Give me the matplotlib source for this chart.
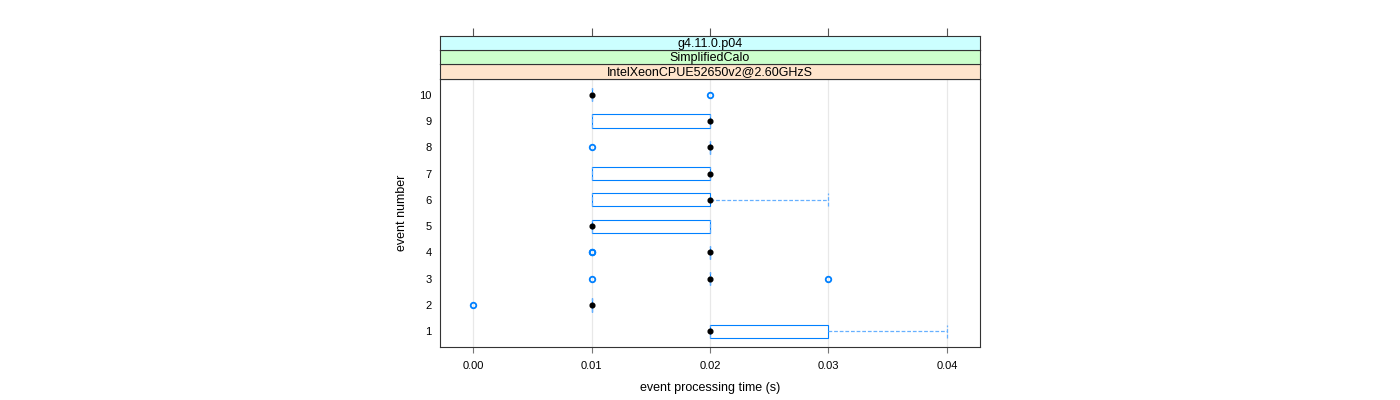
import matplotlib
matplotlib.use('Agg')
import matplotlib.pyplot as plt

plt.rcParams['font.family'] = ['Liberation Sans', 'DejaVu Sans']

# data (event processing time, seconds)
events = [1, 2, 3, 4, 5, 6, 7, 8, 9, 10]
q1 = [0.02, 0.01, 0.02, 0.02, 0.01, 0.01, 0.01, 0.02, 0.01, 0.01]
med = [0.02, 0.01, 0.02, 0.02, 0.01, 0.02, 0.02, 0.02, 0.02, 0.01]
q3 = [0.03, 0.01, 0.02, 0.02, 0.02, 0.02, 0.02, 0.02, 0.02, 0.01]
whislo = [0.02, 0.01, 0.02, 0.02, 0.01, 0.01, 0.01, 0.02, 0.01, 0.01]
whishi = [0.04, 0.01, 0.02, 0.02, 0.02, 0.03, 0.02, 0.02, 0.02, 0.01]
outliers = [[], [0.00], [0.01, 0.03], [0.01, 0.01], [], [], [], [0.01], [], [0.02]]
xticks = [0.00, 0.01, 0.02, 0.03, 0.04]
strips = ['IntelXeonCPUE52650v2@2.60GHzS', 'SimplifiedCalo', 'g4.11.0.p04']
strip_cols = ['#ffe5cc', '#ccffcc', '#ccffff']

blue = '#0080ff'
light_blue = '#66b0ff'
fig = plt.figure(figsize=(14, 4), dpi=100)
ax = fig.add_axes([440 / 1400, 53 / 400, 540 / 1400, 268 / 400])

stats = []
for i in range(len(events)):
    stats.append(dict(q1=q1[i], med=med[i], q3=q3[i], whislo=whislo[i],
                      whishi=whishi[i], fliers=outliers[i]))

ax.bxp(stats, positions=events, orientation='horizontal', widths=0.5,
       capwidths=0.5, patch_artist=True,
       boxprops=dict(facecolor='white', edgecolor=blue, linewidth=0.8),
       whiskerprops=dict(color=light_blue, linewidth=0.9, linestyle=(0, (3, 1.5))),
       capprops=dict(color=light_blue, linewidth=0.9, linestyle=(0, (3, 1.5))),
       medianprops=dict(linestyle='none'),
       flierprops=dict(marker='o', markerfacecolor='none', markeredgecolor=blue,
                       markersize=4, markeredgewidth=1.3),
       zorder=3)
ax.plot(med, events, 'o', color='black', markersize=3.4, zorder=4)

ax.set_xlim(-0.0028, 0.0428)
ax.set_ylim(0.4, 10.6)
ax.set_xticks(xticks)
ax.set_xticklabels(['%.2f' % v for v in xticks], fontsize=8)
ax.set_yticks(events)
ax.set_yticklabels([str(e) for e in events], fontsize=8)
for v in xticks:
    ax.axvline(v, color='#e8e8e8', linewidth=0.9, zorder=0)
ax.tick_params(axis='x', length=4, color='#777777', pad=6)
ax.tick_params(axis='y', length=0, pad=6)
for s in ax.spines.values():
    s.set_color('#333333')
    s.set_linewidth(0.8)
ax.set_xlabel('event processing time (s)', fontsize=9, labelpad=8)
ax.set_ylabel('event number', fontsize=9, labelpad=8)

# strips on top
h = 14.3 / 400
for k, (txt, col) in enumerate(zip(strips, strip_cols)):
    sax = fig.add_axes([440 / 1400, 1 - 78.5 / 400 + k * h, 540 / 1400, h])
    sax.set_facecolor(col)
    sax.set_xlim(ax.get_xlim())
    sax.set_ylim(0, 1)
    sax.text(0.5, 0.42, txt, transform=sax.transAxes, ha='center', va='center', fontsize=9)
    sax.set_yticks([])
    sax.set_xticks(xticks)
    sax.set_xticklabels([])
    if k == len(strips) - 1:
        sax.tick_params(axis='x', bottom=False, top=True, length=6, color='#555555')
    else:
        sax.tick_params(axis='x', bottom=False, top=False)
    for s in sax.spines.values():
        s.set_color('#333333')
        s.set_linewidth(0.8)

fig.savefig('out.png', dpi=100)
